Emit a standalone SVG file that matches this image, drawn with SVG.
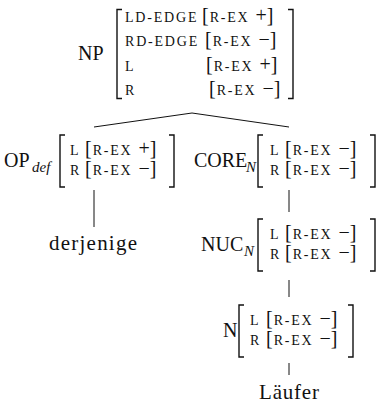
<svg xmlns="http://www.w3.org/2000/svg" width="381" height="403" viewBox="0 0 381 403">
<style>
text{font-family:"Liberation Serif","Times New Roman",serif;fill:#111}
.lab{font-size:20px}
.word{font-size:21px}
.sub{font-size:15px;font-style:italic}
.sc{font-size:14px;letter-spacing:1.8px}
.br{font-size:20px;letter-spacing:0}
.bk{fill:none;stroke:#111;stroke-width:1.4}
.edge{fill:none;stroke:#111;stroke-width:1}
</style>
<g id="connectors">
<path class="edge" d="M192,113 L94,127 M192,113 L289,127"/>
<path class="edge" d="M94,190 V227"/>
<path class="edge" d="M289,190 V212"/>
<path class="edge" d="M289,280 V297"/>
<path class="edge" d="M289,363 V375"/>
</g>
<g id="NP">
<text class="lab" x="78" y="60">NP</text>
<path class="bk" d="M122,9.5 H117 V98.5 H122 M288,9.5 H293 V98.5 H288"/>
<text class="sc" x="125" y="22">LD-EDGE</text>
<text class="sc" x="125" y="46">RD-EDGE</text>
<text class="sc" x="125" y="71">L</text>
<text class="sc" x="125" y="95">R</text>
<text x="202" y="22"><tspan class="br">[</tspan><tspan class="sc" dx="1">R-EX</tspan><tspan class="br" dx="1"> +]</tspan></text>
<text x="205" y="46"><tspan class="br">[</tspan><tspan class="sc" dx="1">R-EX</tspan><tspan class="br" dx="1"> −]</tspan></text>
<text x="206" y="71"><tspan class="br">[</tspan><tspan class="sc" dx="1">R-EX</tspan><tspan class="br" dx="1"> +]</tspan></text>
<text x="209" y="95"><tspan class="br">[</tspan><tspan class="sc" dx="1">R-EX</tspan><tspan class="br" dx="1"> −]</tspan></text>
</g>
<g id="OP">
<text class="lab" x="4" y="167">OP</text>
<text class="sub" x="32" y="172">def</text>
<path class="bk" d="M65,135 H60 V187 H65 M169,135 H174 V187 H169"/>
<text class="sc" x="70" y="155">L</text>
<text class="sc" x="70" y="175">R</text>
<text x="85" y="155"><tspan class="br">[</tspan><tspan class="sc" dx="1">R-EX</tspan><tspan class="br" dx="1"> +]</tspan></text>
<text x="85" y="175"><tspan class="br">[</tspan><tspan class="sc" dx="1">R-EX</tspan><tspan class="br" dx="1"> −]</tspan></text>
</g>
<g id="derjenige">
<text class="word" x="49" y="250" textLength="88" lengthAdjust="spacing">derjenige</text>
</g>
<g id="CORE">
<text class="lab" x="194" y="167">CORE</text>
<text class="sub" x="246" y="172">N</text>
<path class="bk" d="M263,135 H258 V187 H263 M370,135 H375 V187 H370"/>
<text class="sc" x="270" y="155">L</text>
<text class="sc" x="270" y="175">R</text>
<text x="285" y="155"><tspan class="br">[</tspan><tspan class="sc" dx="1">R-EX</tspan><tspan class="br" dx="1"> −]</tspan></text>
<text x="285" y="175"><tspan class="br">[</tspan><tspan class="sc" dx="1">R-EX</tspan><tspan class="br" dx="1"> −]</tspan></text>
</g>
<g id="NUC">
<text class="lab" x="201" y="251">NUC</text>
<text class="sub" x="244" y="256">N</text>
<path class="bk" d="M263,219 H258 V271 H263 M370,219 H375 V271 H370"/>
<text class="sc" x="270" y="239">L</text>
<text class="sc" x="270" y="259">R</text>
<text x="285" y="239"><tspan class="br">[</tspan><tspan class="sc" dx="1">R-EX</tspan><tspan class="br" dx="1"> −]</tspan></text>
<text x="285" y="259"><tspan class="br">[</tspan><tspan class="sc" dx="1">R-EX</tspan><tspan class="br" dx="1"> −]</tspan></text>
</g>
<g id="N">
<text class="lab" x="223" y="337">N</text>
<path class="bk" d="M244,305 H239 V357 H244 M348,305 H353 V357 H348"/>
<text class="sc" x="250" y="325">L</text>
<text class="sc" x="250" y="345">R</text>
<text x="266" y="325"><tspan class="br">[</tspan><tspan class="sc" dx="1">R-EX</tspan><tspan class="br" dx="1"> −]</tspan></text>
<text x="266" y="345"><tspan class="br">[</tspan><tspan class="sc" dx="1">R-EX</tspan><tspan class="br" dx="1"> −]</tspan></text>
</g>
<g id="Laeufer">
<text class="word" x="259" y="399" textLength="60" lengthAdjust="spacing">Läufer</text>
</g>
</svg>
